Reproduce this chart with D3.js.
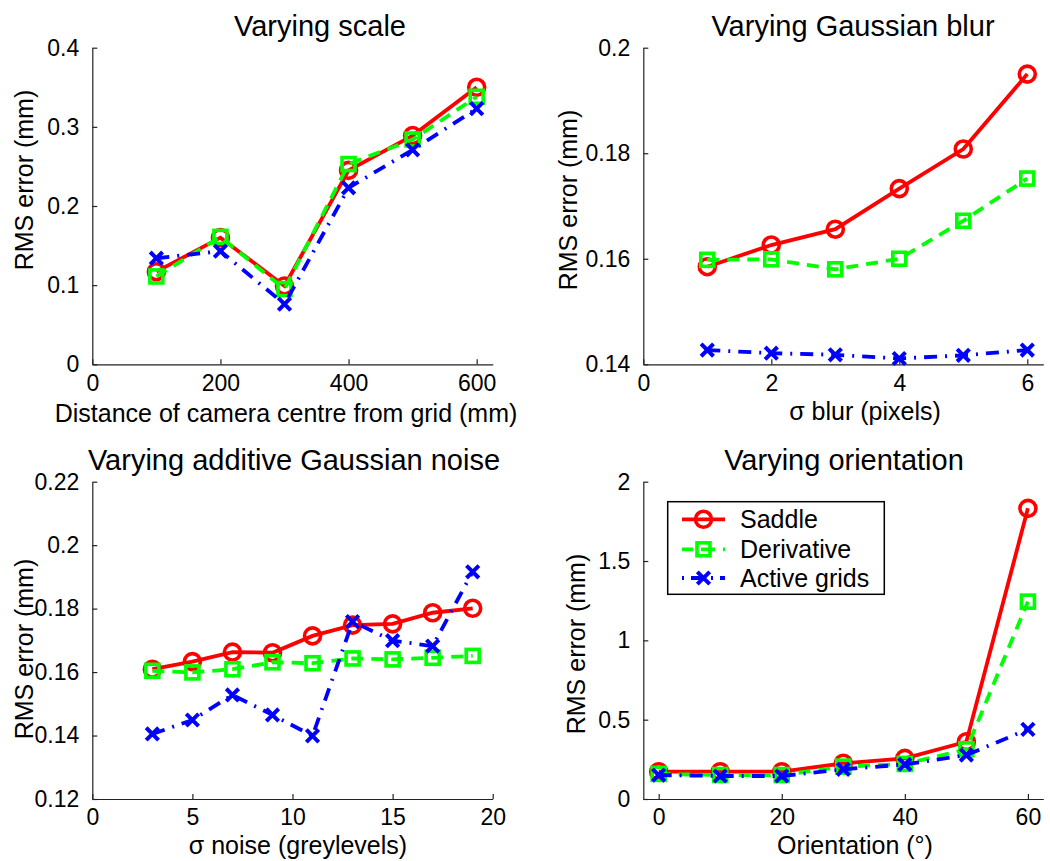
<!DOCTYPE html>
<html>
<head>
<meta charset="utf-8">
<script src="https://cdn.jsdelivr.net/npm/d3@7"></script>
<style>
  html, body { margin: 0; padding: 0; background: #fff; }
  svg { display: block; font-family: "Liberation Sans", Arial, Helvetica, sans-serif; }
</style>
</head>
<body>
<svg id="chart" width="1050" height="861"></svg>
<script>
// ---- Varying scale ----
const scaleX          = [100, 200, 300, 400, 500, 600];
const scaleSaddle     = [0.117, 0.160, 0.099, 0.245, 0.289, 0.350];
const scaleDerivative = [0.111, 0.161, 0.095, 0.253, 0.284, 0.338];
const scaleActive     = [0.134, 0.143, 0.076, 0.223, 0.271, 0.323];
const scaleXTicks = [0, 200, 400, 600];
const scaleXTickLabels = ["0", "200", "400", "600"];
const scaleYTicks = [0, 0.1, 0.2, 0.3, 0.4];
const scaleYTickLabels = ["0", "0.1", "0.2", "0.3", "0.4"];

// ---- Varying Gaussian blur ----
const blurX          = [1, 2, 3, 4, 5, 6];
const blurSaddle     = [0.1585, 0.1626, 0.1656, 0.1733, 0.1808, 0.1950];
const blurDerivative = [0.1598, 0.1599, 0.1580, 0.1600, 0.1672, 0.1752];
const blurActive     = [0.1427, 0.1421, 0.1418, 0.1411, 0.1417, 0.1427];
const blurXTicks = [0, 2, 4, 6];
const blurXTickLabels = ["0", "2", "4", "6"];
const blurYTicks = [0.14, 0.16, 0.18, 0.2];
const blurYTickLabels = ["0.14", "0.16", "0.18", "0.2"];

// ---- Varying additive Gaussian noise ----
const noiseX          = [3, 5, 7, 9, 11, 13, 15, 17, 19];
const noiseSaddle     = [0.1609, 0.1633, 0.1663, 0.1661, 0.1714, 0.1748, 0.1752, 0.1787, 0.1801];
const noiseDerivative = [0.1604, 0.1599, 0.1609, 0.1631, 0.1628, 0.1643, 0.1640, 0.1645, 0.1651];
const noiseActive     = [0.1405, 0.1449, 0.1528, 0.1465, 0.1399, 0.1759, 0.1699, 0.1682, 0.1916];
const noiseXTicks = [0, 5, 10, 15, 20];
const noiseXTickLabels = ["0", "5", "10", "15", "20"];
const noiseYTicks = [0.12, 0.14, 0.16, 0.18, 0.2, 0.22];
const noiseYTickLabels = ["0.12", "0.14", "0.16", "0.18", "0.2", "0.22"];

// ---- Varying orientation ----
const orientX          = [0, 10, 20, 30, 40, 50, 60];
const orientSaddle     = [0.172, 0.172, 0.172, 0.225, 0.256, 0.361, 1.832];
const orientDerivative = [0.158, 0.151, 0.151, 0.204, 0.221, 0.313, 1.244];
const orientActive     = [0.151, 0.145, 0.145, 0.187, 0.218, 0.277, 0.439];
const orientXTicks = [0, 20, 40, 60];
const orientXTickLabels = ["0", "20", "40", "60"];
const orientYTicks = [0, 0.5, 1, 1.5, 2];
const orientYTickLabels = ["0", "0.5", "1", "1.5", "2"];

const seriesNames = ["Saddle", "Derivative", "Active grids"];

// series appearance
const seriesStyle = [
  { color: "#ff0000", dash: null,        marker: "circle" },
  { color: "#00ff00", dash: "12,8",      marker: "square" },
  { color: "#0000ff", dash: "13,8,2,8",  marker: "cross"  }
];

const panels = [
  { title: "Varying scale", xLabel: "Distance of camera centre from grid (mm)",
    x: scaleX, ys: [scaleSaddle, scaleDerivative, scaleActive],
    xDomain: [0, 625], yDomain: [0, 0.4],
    xTicks: scaleXTicks, xTickLabels: scaleXTickLabels, yTicks: scaleYTicks, yTickLabels: scaleYTickLabels,
    box: [92.3, 47.7, 492.7, 364.3], titleX: 320, xLabelX: 286, xLabelY: 422, yLabelX: 33, yLabelY: 180 },
  { title: "Varying Gaussian blur", xLabel: "\u03c3 blur (pixels)",
    x: blurX, ys: [blurSaddle, blurDerivative, blurActive],
    xDomain: [0, 6.25], yDomain: [0.14, 0.2],
    xTicks: blurXTicks, xTickLabels: blurXTickLabels, yTicks: blurYTicks, yTickLabels: blurYTickLabels,
    box: [643.3, 47.7, 1043.3, 364.3], titleX: 853, xLabelX: 865, xLabelY: 420, yLabelX: 577, yLabelY: 200 },
  { title: "Varying additive Gaussian noise", xLabel: "\u03c3 noise (greylevels)",
    x: noiseX, ys: [noiseSaddle, noiseDerivative, noiseActive],
    xDomain: [0, 20], yDomain: [0.12, 0.22],
    xTicks: noiseXTicks, xTickLabels: noiseXTickLabels, yTicks: noiseYTicks, yTickLabels: noiseYTickLabels,
    box: [92.3, 481.7, 492.7, 799], titleX: 294, xLabelX: 298, xLabelY: 854, yLabelX: 33, yLabelY: 649 },
  { title: "Varying orientation", xLabel: "Orientation (\u00b0)",
    x: orientX, ys: [orientSaddle, orientDerivative, orientActive],
    xDomain: [-2.5, 62.5], yDomain: [0, 2],
    xTicks: orientXTicks, xTickLabels: orientXTickLabels, yTicks: orientYTicks, yTickLabels: orientYTickLabels,
    box: [643.3, 481.7, 1043.3, 799], titleX: 844, xLabelX: 855, xLabelY: 854, yLabelX: 585, yLabelY: 644,
    legend: true }
];

const svg = d3.select("#chart");
const TICK_FONT = 23, LABEL_FONT = 25, TITLE_FONT = 29;
const LINE_W = 3.8, MARK_W = 3.6;

function drawMarker(g, type, color) {
  if (type === "circle") {
    g.append("circle").attr("r", 8).attr("fill", "none")
      .attr("stroke", color).attr("stroke-width", MARK_W);
  } else if (type === "square") {
    g.append("rect").attr("x", -6.5).attr("y", -6.5).attr("width", 13).attr("height", 13)
      .attr("fill", "none").attr("stroke", color).attr("stroke-width", MARK_W);
  } else {
    const s = 6.2;
    g.append("path").attr("d", `M${-s},${-s}L${s},${s}M${-s},${s}L${s},${-s}`)
      .attr("stroke", color).attr("stroke-width", 4).attr("fill", "none");
  }
}

panels.forEach(p => {
  const [x0, y0, x1, y1] = p.box;
  const xs = d3.scaleLinear().domain(p.xDomain).range([x0, x1]);
  const ys = d3.scaleLinear().domain(p.yDomain).range([y1, y0]);
  const g = svg.append("g");

  // axes: inward ticks, left and bottom spines only
  const xAxis = d3.axisBottom(xs).tickValues(p.xTicks)
    .tickFormat((d, i) => p.xTickLabels[i]).tickSizeInner(-5).tickSizeOuter(0).tickPadding(10);
  const yAxis = d3.axisLeft(ys).tickValues(p.yTicks)
    .tickFormat((d, i) => p.yTickLabels[i]).tickSizeInner(-5).tickSizeOuter(0).tickPadding(13);

  const gx = g.append("g").attr("transform", `translate(0,${y1})`).call(xAxis);
  const gy = g.append("g").attr("transform", `translate(${x0},0)`).call(yAxis);
  [gx, gy].forEach(a => {
    a.select(".domain").attr("stroke", "#222").attr("stroke-width", 1.2);
    a.selectAll(".tick line").attr("stroke", "#222").attr("stroke-width", 1.2);
    a.selectAll(".tick text").attr("fill", "#000").attr("font-size", TICK_FONT)
      .attr("font-family", "Liberation Sans, Arial, sans-serif");
  });
  gx.selectAll(".tick text").attr("dy", "0.71em");

  // title and axis labels
  g.append("text").attr("x", p.titleX).attr("y", y0 - 12).attr("text-anchor", "middle")
    .attr("font-size", TITLE_FONT).text(p.title);
  g.append("text").attr("x", p.xLabelX).attr("y", p.xLabelY).attr("text-anchor", "middle")
    .attr("font-size", LABEL_FONT).text(p.xLabel);
  g.append("text").attr("transform", `translate(${p.yLabelX},${p.yLabelY}) rotate(-90)`)
    .attr("text-anchor", "middle").attr("font-size", LABEL_FONT).text("RMS error (mm)");

  // series
  p.ys.forEach((vals, si) => {
    const st = seriesStyle[si];
    const pts = p.x.map((xv, i) => [xv, vals[i]]);
    const line = d3.line().x(d => xs(d[0])).y(d => ys(d[1]));
    g.append("path").datum(pts).attr("d", line).attr("fill", "none")
      .attr("stroke", st.color).attr("stroke-width", LINE_W)
      .attr("stroke-dasharray", st.dash);
    pts.forEach(d => {
      const mg = g.append("g").attr("transform", `translate(${xs(d[0])},${ys(d[1])})`);
      drawMarker(mg, st.marker, st.color);
    });
  });

  if (p.legend) {
    const lg = g.append("g");
    lg.append("rect").attr("x", 667.7).attr("y", 501.7).attr("width", 216.6).attr("height", 92.6)
      .attr("fill", "#fff").attr("stroke", "#000").attr("stroke-width", 1.5);
    const rowY = [519.3, 549.3, 578];
    seriesNames.forEach((name, si) => {
      const st = seriesStyle[si];
      lg.append("line").attr("x1", 682).attr("x2", 725).attr("y1", rowY[si]).attr("y2", rowY[si])
        .attr("stroke", st.color).attr("stroke-width", LINE_W)
        .attr("stroke-dasharray", si === 2 ? "2,7,13,7" : (si === 1 ? "14,8" : null))
        .attr("stroke-dashoffset", si === 1 ? 3 : 0);
      const mg = lg.append("g").attr("transform", `translate(703.5,${rowY[si]})`);
      drawMarker(mg, st.marker, st.color);
      lg.append("text").attr("x", 740).attr("y", rowY[si]).attr("dy", "0.36em")
        .attr("font-size", LABEL_FONT).text(name);
    });
  }
});
</script>
</body>
</html>
